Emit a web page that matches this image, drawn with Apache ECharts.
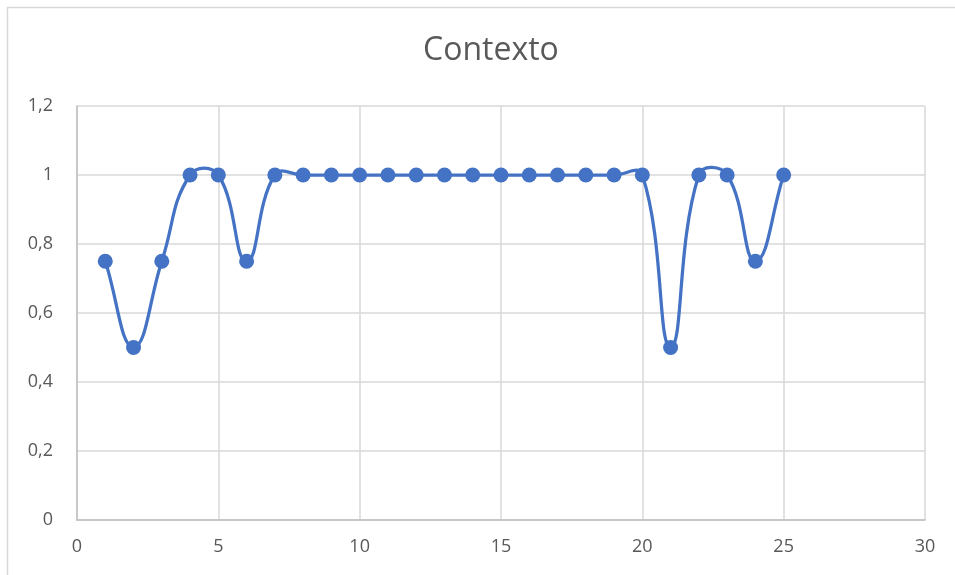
<!DOCTYPE html>
<html>
<head>
<meta charset="utf-8">
<script src="https://cdn.jsdelivr.net/npm/echarts@6/dist/echarts.min.js"></script>
<style>
html,body{margin:0;padding:0;background:#fff;}
#chart{width:955px;height:575px;}
</style>
</head>
<body>
<div id="chart"></div>
<script>
var titleText = "Contexto";
var xValues = [1,2,3,4,5,6,7,8,9,10,11,12,13,14,15,16,17,18,19,20,21,22,23,24,25];
var yValues = [0.75,0.5,0.75,1,1,0.75,1,1,1,1,1,1,1,1,1,1,1,1,1,1,0.5,1,1,0.75,1];

var points = xValues.map(function(x, i){ return [x, yValues[i]]; });
function fmt(v){ return String(Number(v.toFixed(1))).replace('.', ','); }

// Excel-like smoothed line: cubic Bezier segments with tangents scaled by
// neighbouring segment lengths; every point goes through the chart axes (api.coord).
var SMOOTH = 0.45;
function renderSegment(params, api) {
  var i = params.dataIndex;
  if (i >= points.length - 1) return null;
  var n = points.length;
  var P = function(k){ k = Math.max(0, Math.min(n - 1, k)); return api.coord(points[k]); };
  var dist = function(a, b){ return Math.sqrt((a[0]-b[0])*(a[0]-b[0]) + (a[1]-b[1])*(a[1]-b[1])); };
  function ctrl(k, out) {
    var prev = P(k - 1), cur = P(k), next = P(k + 1);
    var vx = next[0] - prev[0], vy = next[1] - prev[1];
    var d0 = dist(cur, prev), d1 = dist(next, cur);
    var sum = d0 + d1;
    if (sum === 0) return cur;
    var r = out ? d1 / sum : -d0 / sum;
    return [cur[0] + vx * SMOOTH * r, cur[1] + vy * SMOOTH * r];
  }
  var a = P(i), b = P(i + 1);
  var c1 = ctrl(i, true), c2 = ctrl(i + 1, false);
  return {
    type: 'bezierCurve',
    shape: {x1: a[0], y1: a[1], cpx1: c1[0], cpy1: c1[1], cpx2: c2[0], cpy2: c2[1], x2: b[0], y2: b[1]},
    style: {fill: null, stroke: '#4472c4', lineWidth: 3.25, lineCap: 'round', lineJoin: 'round'}
  };
}

var chart = echarts.init(document.getElementById('chart'), null, {renderer:'canvas'});
chart.setOption({
  animation: false,
  backgroundColor: '#ffffff',
  title: {
    text: titleText,
    left: 418,
    top: 30,
    textStyle: {fontFamily: 'Open Sans', fontSize: 32, fontWeight: 'normal', color: '#595959'}
  },
  graphic: [{
    type: 'rect',
    shape: {x: 7.5, y: 7.5, width: 1100, height: 1100},
    style: {fill: 'none', stroke: '#d9d9d9', lineWidth: 1.5},
    silent: true,
    z: -10
  }],
  grid: {left: 77, top: 106, right: 30, bottom: 55},
  xAxis: {
    type: 'value', min: 0, max: 30, interval: 5,
    axisLine: {show: true, lineStyle: {color: '#bfbfbf', width: 1.5}},
    axisTick: {show: false},
    axisLabel: {fontFamily: 'Open Sans', fontSize: 18, color: '#595959', margin: 18},
    splitLine: {show: true, lineStyle: {color: '#d9d9d9', width: 1.5}}
  },
  yAxis: {
    type: 'value', min: 0, max: 1.2, interval: 0.2,
    axisLine: {show: true, lineStyle: {color: '#bfbfbf', width: 1.5}},
    axisTick: {show: false},
    axisLabel: {fontFamily: 'Open Sans', fontSize: 18, color: '#595959', margin: 24, formatter: fmt},
    splitLine: {show: true, lineStyle: {color: '#d9d9d9', width: 1.5}}
  },
  series: [{
    type: 'custom',
    data: points,
    renderItem: renderSegment,
    encode: {x: 0, y: 1},
    z: 2
  }, {
    type: 'scatter',
    data: points,
    symbol: 'circle',
    symbolSize: 15,
    itemStyle: {color: '#4472c4', opacity: 1},
    z: 3
  }]
});
</script>
</body>
</html>
